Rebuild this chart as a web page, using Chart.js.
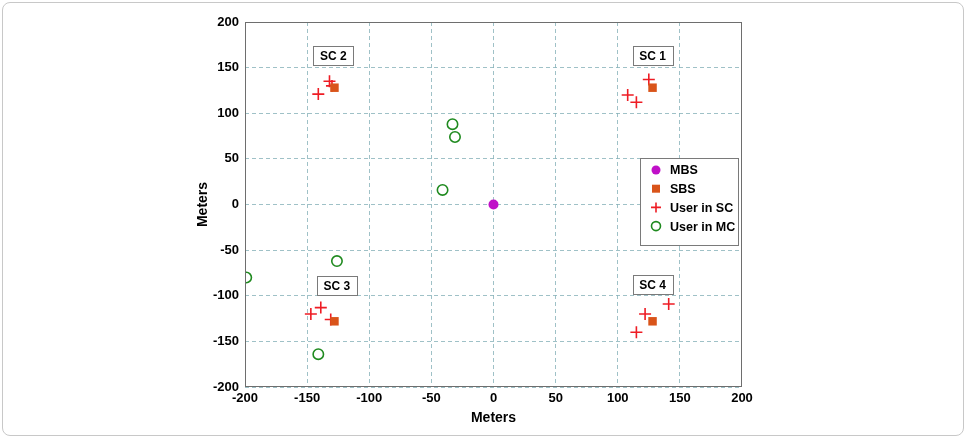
<!DOCTYPE html>
<html><head><meta charset="utf-8">
<script src="https://cdn.jsdelivr.net/npm/chart.js@4.4.1/dist/chart.umd.min.js"></script>
<style>
html,body{margin:0;padding:0;background:#fff;}
#wrap{position:absolute;left:2px;top:2px;width:960px;height:432px;border:1px solid #c8c8c8;border-radius:8px;}
#c{position:absolute;left:0;top:0;}
</style></head>
<body>
<div id="wrap"></div>
<canvas id="c" width="966" height="438"></canvas>
<script>
// ---- data ----
const mbsX = [0];
const mbsY = [0];
const sbsX = [128, -128, -128, 128];
const sbsY = [128, 128, -128, -128];
const userScX = [125, 108, 115, -132, -130, -141, -147, -139, -131, 141, 122, 115];
const userScY = [137, 120, 112, 135, 130, 121, -120, -113, -126, -109, -120, -140];
const userMcX = [-33, -31, -41, -199, -126, -141];
const userMcY = [88, 74, 16, -80, -62, -164];
const cellLabels = ['SC 1', 'SC 2', 'SC 3', 'SC 4'];
const cellLabelX = [128, -129, -126, 128];
const cellLabelY = [163, 163, -89, -88];
const tickValues = [-200, -150, -100, -50, 0, 50, 100, 150, 200];
const seriesNames = ['MBS', 'SBS', 'User in SC', 'User in MC'];

const zip = (xs, ys) => xs.map((x, i) => ({x: x, y: ys[i]}));

const COL = {mbs:'#c010c8', sbs:'#d9541a', sc:'#ee1c24', mc:'#1f8a1f'};
const FONT = 'Liberation Sans, Arial, Helvetica, sans-serif';
const GRID = 'rgba(135,178,185,0.8)';

const overlay = {
  id: 'overlay',
  afterDraw(chart) {
    const ctx = chart.ctx, a = chart.chartArea;
    const xs = chart.scales.x, ys = chart.scales.y;
    ctx.save();
    // frame
    ctx.strokeStyle = '#6e6e6e'; ctx.lineWidth = 1; ctx.setLineDash([]);
    ctx.fillStyle = '#fff';
    ctx.fillRect(a.right - 1, a.top, 2, a.bottom - a.top);
    ctx.strokeRect(a.left + 0.5, a.top + 0.5, a.right - a.left - 1, a.bottom - a.top - 1);
    // cell labels
    ctx.font = 'bold 12px ' + FONT;
    ctx.textAlign = 'center'; ctx.textBaseline = 'middle';
    cellLabels.forEach((t, i) => {
      const px = xs.getPixelForValue(cellLabelX[i]), py = ys.getPixelForValue(cellLabelY[i]);
      const w = 40, h = 19;
      const bx = Math.round(px - w/2) + 0.5, by = Math.round(py - h/2) + 0.5;
      ctx.fillStyle = '#fff'; ctx.fillRect(bx, by, w, h);
      ctx.strokeStyle = '#7a7a7a'; ctx.strokeRect(bx, by, w, h);
      ctx.fillStyle = '#000'; ctx.fillText(t, px, py + 1);
    });
    // legend
    const lx = 640.5, ly = 158.5, lw = 98, lh = 87;
    ctx.fillStyle = '#fff'; ctx.fillRect(lx, ly, lw, lh);
    ctx.strokeStyle = '#7a7a7a'; ctx.lineWidth = 1; ctx.strokeRect(lx, ly, lw, lh);
    ctx.textAlign = 'left';
    ctx.font = 'bold 12.5px ' + FONT;
    seriesNames.forEach((n, i) => {
      const my = 170 + i * 18.7, mx = 656;
      ctx.lineWidth = 1.6;
      if (i === 0) { ctx.fillStyle = COL.mbs; ctx.beginPath(); ctx.arc(mx, my, 4.5, 0, Math.PI*2); ctx.fill(); }
      if (i === 1) { ctx.fillStyle = COL.sbs; ctx.fillRect(mx - 4, my - 4, 8, 8); }
      if (i === 2) { ctx.strokeStyle = COL.sc; ctx.beginPath(); ctx.moveTo(mx-5, my); ctx.lineTo(mx+5, my); ctx.moveTo(mx, my-5); ctx.lineTo(mx, my+5); ctx.stroke(); }
      if (i === 3) { ctx.strokeStyle = COL.mc; ctx.beginPath(); ctx.arc(mx, my, 4.5, 0, Math.PI*2); ctx.stroke(); }
      ctx.fillStyle = '#000'; ctx.fillText(n, 670, my + 1);
    });
    ctx.restore();
  }
};

new Chart(document.getElementById('c'), {
  type: 'scatter',
  data: {
    datasets: [
      {label: seriesNames[3], data: zip(userMcX, userMcY), pointStyle: 'circle', radius: 5.2, borderColor: COL.mc, backgroundColor: 'rgba(0,0,0,0)', borderWidth: 1.6},
      {label: seriesNames[1], data: zip(sbsX, sbsY), pointStyle: 'rect', radius: 6, borderColor: COL.sbs, backgroundColor: COL.sbs, borderWidth: 0},
      {label: seriesNames[2], data: zip(userScX, userScY), pointStyle: 'cross', radius: 6, borderColor: COL.sc, backgroundColor: COL.sc, borderWidth: 1.6},
      {label: seriesNames[0], data: zip(mbsX, mbsY), pointStyle: 'circle', radius: 5, borderColor: COL.mbs, backgroundColor: COL.mbs, borderWidth: 0}
    ]
  },
  options: {
    responsive: false, animation: false, devicePixelRatio: 1,
    layout: {padding: {left: 195, right: 224, top: 22, bottom: 11}},
    plugins: {legend: {display: false}, tooltip: {enabled: false}},
    elements: {point: {hoverRadius: 5}},
    scales: {
      x: {
        type: 'linear', min: -200, max: 200,
        afterBuildTicks: s => { s.ticks = tickValues.map(v => ({value: v})); },
        afterFit: s => { s.height = 40; },
        grid: {color: GRID, lineWidth: 1, drawTicks: false},
        border: {display: false, dash: [4, 3]},
        ticks: {color: '#000', font: {family: FONT, size: 13, weight: 'bold'}, padding: 4, maxRotation: 0, autoSkip: false},
        title: {display: true, text: 'Meters', color: '#000', font: {family: FONT, size: 14, weight: 'bold'}, padding: {top: 0, bottom: 0}}
      },
      y: {
        type: 'linear', min: -200, max: 200,
        afterBuildTicks: s => { s.ticks = tickValues.map(v => ({value: v})); },
        afterFit: s => { s.width = 50; },
        grid: {color: GRID, lineWidth: 1, drawTicks: false},
        border: {display: false, dash: [4, 3]},
        ticks: {color: '#000', font: {family: FONT, size: 13, weight: 'bold'}, padding: 6, autoSkip: false},
        title: {display: true, text: 'Meters', color: '#000', font: {family: FONT, size: 14, weight: 'bold'}, padding: {top: 0, bottom: 0}}
      }
    }
  },
  plugins: [overlay]
});
</script>
</body></html>
